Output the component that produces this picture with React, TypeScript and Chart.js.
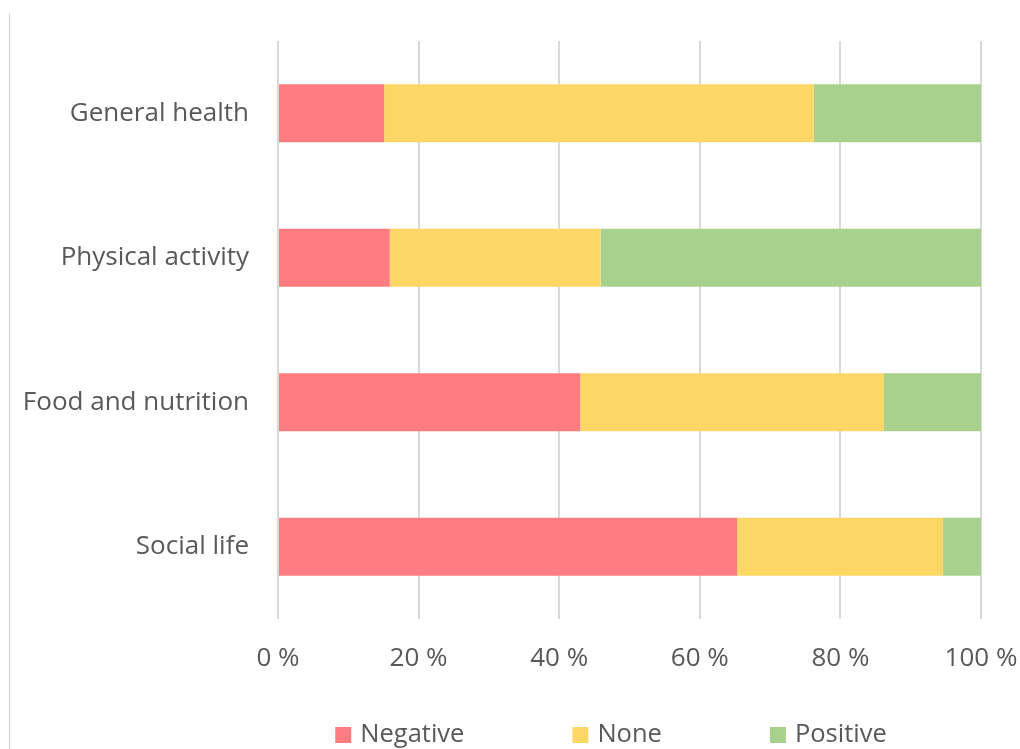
import React, { useEffect, useRef } from "react";
import { Chart, registerables } from "chart.js";

Chart.register(...registerables);

const categories = ["General health", "Physical activity", "Food and nutrition", "Social life"];
const negativeValues = [15.1, 15.9, 43.0, 65.3];
const noneValues = [61.1, 30.0, 43.2, 29.3];
const positiveValues = [23.8, 54.1, 13.8, 5.4];
const seriesNames = ["Negative", "None", "Positive"];
const seriesColors = ["#FF7C80", "#FDD766", "#A9D18E"];
const xTicks = [0, 20, 40, 60, 80, 100];

const FONT = "'Open Sans', 'Noto Sans', sans-serif";
const TEXT = "#595959";

const legendPlugin = {
  id: "customLegend",
  afterDraw(chart: any) {
    const ctx = chart.ctx;
    const size = 25.5;
    ctx.save();
    ctx.font = `${size}px ${FONT}`;
    ctx.textBaseline = "middle";
    ctx.textAlign = "left";
    const box = 16;
    const gapText = 9;
    const gapItem = 108;
    const items = chart.data.datasets.map((d: any) => ({
      label: d.label,
      color: d.backgroundColor,
      w: ctx.measureText(d.label).width,
    }));
    const total = items.reduce((s: number, it: any) => s + box + gapText + it.w, 0) + gapItem * (items.length - 1);
    let x = 611 - total / 2;
    const cy = 735;
    for (const it of items) {
      ctx.fillStyle = it.color;
      ctx.fillRect(x, cy - box / 2, box, box);
      x += box + gapText;
      ctx.fillStyle = TEXT;
      ctx.fillText(it.label, x, cy);
      x += it.w + gapItem;
    }
    ctx.restore();
  },
};

export default function App() {
  const ref = useRef<HTMLCanvasElement | null>(null);
  useEffect(() => {
    if (!ref.current) return;
    const chart = new Chart(ref.current, {
      type: "bar",
      data: {
        labels: categories,
        datasets: [
          { label: seriesNames[0], data: negativeValues, backgroundColor: seriesColors[0] },
          { label: seriesNames[1], data: noneValues, backgroundColor: seriesColors[1] },
          { label: seriesNames[2], data: positiveValues, backgroundColor: seriesColors[2] },
        ],
      },
      options: {
        indexAxis: "y",
        responsive: false,
        animation: false,
        layout: { padding: { top: 41, right: 39, left: 0, bottom: 0 } },
        datasets: { bar: { barPercentage: 0.4, categoryPercentage: 1, borderWidth: 0 } },
        plugins: { legend: { display: false }, tooltip: { enabled: false } },
        scales: {
          x: {
            stacked: true,
            min: 0,
            max: 100,
            afterBuildTicks: (scale: any) => {
              scale.ticks = xTicks.map((v) => ({ value: v }));
            },
            afterFit: (scale: any) => {
              scale.height = 130;
              scale.paddingLeft = 0;
              scale.paddingRight = 0;
            },
            grid: { color: "#D9D9D9", lineWidth: 2, drawTicks: false },
            border: { display: false },
            ticks: {
              padding: 24,
              color: TEXT,
              font: { family: FONT, size: 26 },
              callback: (v: any) => `${v} %`,
              maxRotation: 0,
            },
          },
          y: {
            stacked: true,
            afterFit: (scale: any) => {
              scale.width = 278;
              scale.paddingTop = 0;
              scale.paddingBottom = 0;
            },
            grid: { display: false, drawTicks: false },
            border: { display: false },
            ticks: { padding: 29, color: TEXT, font: { family: FONT, size: 26 } },
          },
        },
      },
      plugins: [legendPlugin],
    });
    return () => chart.destroy();
  }, []);

  return (
    <div style={{ position: "fixed", left: 0, top: 0, width: 1020, height: 749, background: "#fff" }}>
      <div style={{ position: "absolute", left: 9, top: 14, width: 1, height: 735, background: "#D0D0D0" }} />
      <canvas ref={ref} width={1020} height={749} style={{ position: "absolute", left: 0, top: 0, width: 1020, height: 749 }} />
    </div>
  );
}
